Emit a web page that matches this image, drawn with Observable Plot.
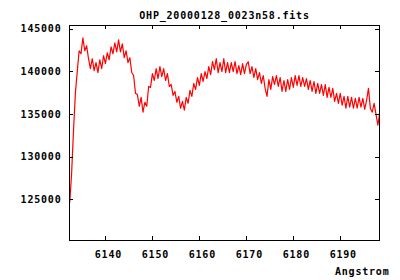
<!DOCTYPE html>
<html>
<head>
<meta charset="utf-8">
<script src="https://cdn.jsdelivr.net/npm/d3@7"></script>
<script src="https://cdn.jsdelivr.net/npm/@observablehq/plot@0.6"></script>
<style>
  html, body { margin: 0; padding: 0; background: #fff; }
  svg line, svg rect { shape-rendering: crispEdges; }
</style>
</head>
<body>
<div id="chart"></div>
<script>
const title = "OHP_20000128_0023n58.fits";
const xLabel = "Angstrom";
const xTicks = [6140, 6150, 6160, 6170, 6180, 6190];
const yTicks = [125000, 130000, 135000, 140000, 145000];
const xDomain = [6132.35, 6198.35];
const yDomain = [120230, 145410];
// FITS-style wavelength grid (CRVAL1 / CDELT1)
const crval1 = 6132.4;
const cdelt1 = 0.4;
const flux = [
  124700, 128060, 133050, 137460, 140010, 142450, 142100, 143960, 142450, 143030,
  141520, 140360, 141520, 140130, 141060, 139900, 141400, 140360, 141870, 140940,
  142220, 141400, 142910, 142100, 143380, 142330, 143720, 142330, 143260, 141640,
  142450, 141060, 141640, 139900, 139550, 137460, 137340, 135950, 137000, 135260,
  136420, 135950, 138270, 138160, 139780, 138970, 140360, 139200, 140590, 139430,
  140360, 138970, 139780, 138270, 138500, 137230, 137690, 136420, 137110, 135720,
  136530, 135490, 137000, 136300, 137810, 137110, 138620, 137920, 139320, 138390,
  139780, 138850, 140010, 139200, 140590, 139660, 141170, 140240, 141520, 139900,
  141060, 140010, 141520, 139900, 141060, 139900, 141060, 140010, 141170, 139780,
  140710, 139660, 140940, 139780, 140820, 141170, 139780, 140590, 139320, 140360,
  139080, 139900, 138620, 139550, 138040, 137110, 139080, 137920, 139430, 138500,
  139550, 138270, 139320, 137690, 138970, 137690, 139080, 137920, 139320, 138160,
  139550, 138390, 139550, 138270, 139320, 138270, 139200, 137920, 138970, 137690,
  138850, 137460, 138620, 137460, 138500, 137230, 138500, 137000, 138160, 137000,
  138040, 136530, 137460, 136300, 137460, 136070, 137110, 135720, 137110, 135840,
  137000, 135720, 136880, 135720, 137000, 135840, 136880, 135600, 136650, 138040,
  135720, 135260, 136300, 135020, 133750, 135140
];

const data = flux.map((f, i) => ({w: crval1 + cdelt1 * i, f}));

const W = 400, H = 280;
const mL = 69, mR = 21, mT = 25, mB = 40;
const fw = W - mL - mR, fh = H - mT - mB;
const tick = 4;

const chart = Plot.plot({
  width: W,
  height: H,
  marginLeft: mL,
  marginRight: mR,
  marginTop: mT,
  marginBottom: mB,
  style: {
    background: "#fff",
    color: "#000",
    fontFamily: "'DejaVu Sans Mono', monospace",
    fontWeight: "bold",
    fontSize: "10px",
    letterSpacing: "0.8px"
  },
  x: {domain: xDomain},
  y: {domain: yDomain},
  marks: [
    Plot.line(data, {x: "w", y: "f", stroke: "#ff0000", strokeWidth: 1.2, clip: true}),
    Plot.frame({stroke: "#000", strokeWidth: 1}),
    Plot.tickX(xTicks, {x: d => d, insetTop: fh - tick, stroke: "#000"}),
    Plot.tickX(xTicks, {x: d => d, insetBottom: fh - tick, stroke: "#000"}),
    Plot.tickY(yTicks, {y: d => d, insetRight: fw - tick, stroke: "#000"}),
    Plot.tickY(yTicks, {y: d => d, insetLeft: fw - tick, stroke: "#000"}),
    Plot.axisX({ticks: xTicks, tickSize: 0, tickPadding: 10, tickFormat: "d", dx: 3, label: null}),
    Plot.axisY({ticks: yTicks, tickSize: 0, tickPadding: 8, tickFormat: "d", label: null}),
    Plot.text([title], {text: d => d, frameAnchor: "top", dy: -10, lineAnchor: "middle", fill: "#000"}),
    Plot.text([xLabel], {text: d => d, frameAnchor: "bottom-right", dx: 10, dy: 31, textAnchor: "end", lineAnchor: "middle", fill: "#000"})
  ]
});
document.getElementById("chart").appendChild(chart);
</script>
</body>
</html>
